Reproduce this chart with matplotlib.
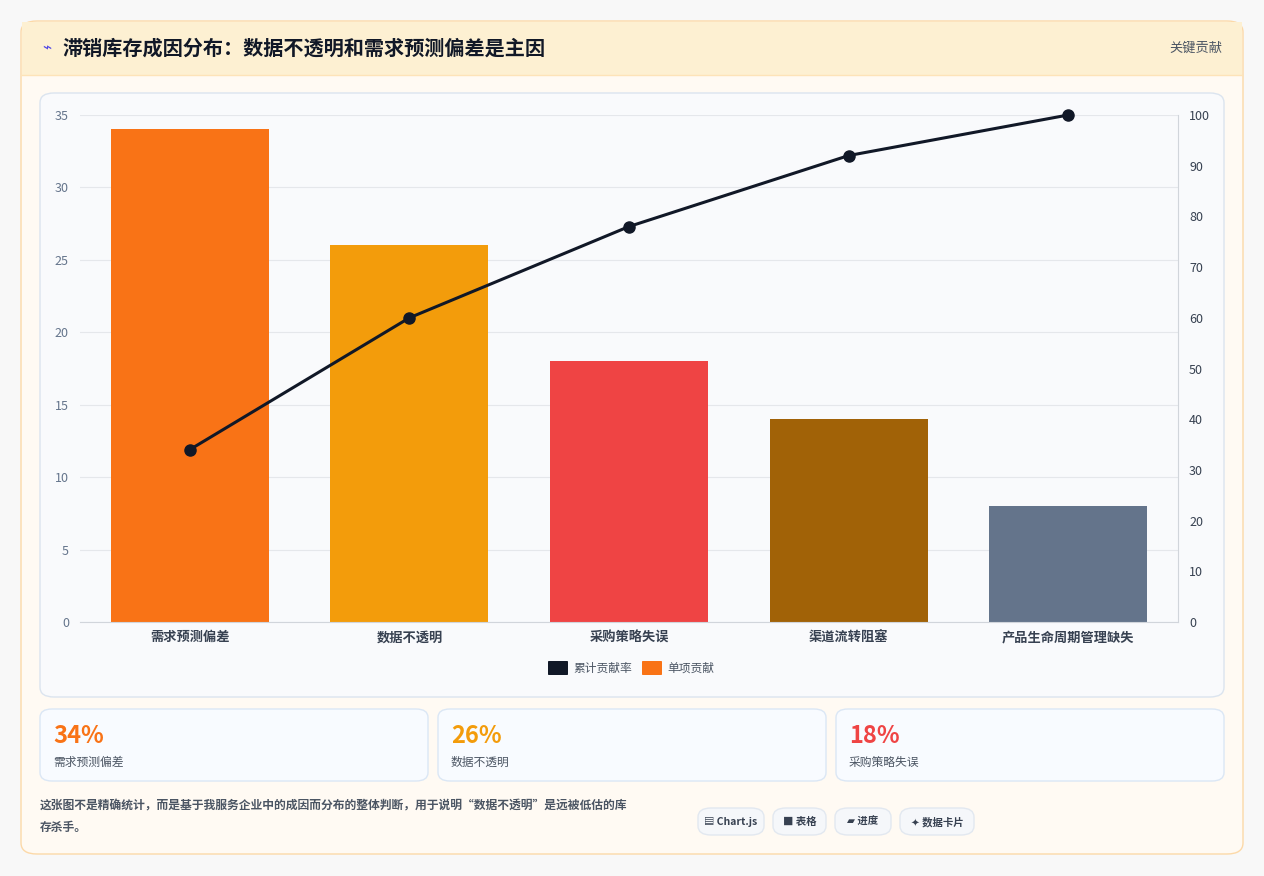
import matplotlib.pyplot as plt
from matplotlib.patches import FancyBboxPatch, Rectangle
from matplotlib.lines import Line2D

plt.rcParams['font.family'] = ['Noto Sans CJK SC', 'DejaVu Sans']

categories = ['需求预测偏差', '数据不透明', '采购策略失误', '渠道流转阻塞', '产品生命周期管理缺失']
shares = [34, 26, 18, 14, 8]
cumulative = [34, 60, 78, 92, 100]
bar_colors = ['#f97316', '#f39c0b', '#ef4444', '#a16207', '#64748b']
cards = [('34%', '需求预测偏差', '#f97316'), ('26%', '数据不透明', '#f39c0b'), ('18%', '采购策略失误', '#ef4444')]
chips = ['▤ Chart.js', '■ 表格', '▰ 进度', '✦ 数据卡片']
chip_widths = [66, 53, 56, 74]

W, H = 1264, 876
fig = plt.figure(figsize=(W / 100, H / 100), dpi=100)
fig.patch.set_facecolor('#f8f8f8')


def box(x, y, w, h, fc, ec, r=12, lw=1, z=0):
    p = FancyBboxPatch((x / W, 1 - (y + h) / H), w / W, h / H,
                       boxstyle=f"round,pad=0,rounding_size={r / W}",
                       transform=fig.transFigure, fc=fc, ec=ec, lw=lw, zorder=z)
    fig.patches.append(p)


def txt(x, y, s, **kw):
    fig.text(x / W, 1 - y / H, s, **kw)


# outer card
box(21, 21, 1222, 833, '#fffaf3', '#fcd9a8', r=16)
fig.patches.append(Rectangle((22 / W, 1 - 75 / H), 1220 / W, 53 / H, transform=fig.transFigure,
                             fc='#fdf0d2', ec='none', zorder=0.5))
fig.add_artist(Line2D([22 / W, 1242 / W], [1 - 75 / H] * 2, color='#fde3b8', lw=1))
txt(42, 48, '⌁', color='#4f46e5', fontsize=11, va='center')
txt(62, 48, '滞销库存成因分布：数据不透明和需求预测偏差是主因', fontsize=14.5, fontweight='bold',
    color='#111827', va='center')
txt(1222, 48, '关键贡献', fontsize=9.5, color='#4b5563', va='center', ha='right')

# chart panel
box(40, 93, 1184, 604, '#f9fafc', '#dbe4ef', r=14)

ax = fig.add_axes([80 / W, (H - 622) / H, 1098 / W, 507 / H])
ax.set_zorder(5)
ax.set_facecolor('none')
x = range(len(categories))
ax.bar(x, shares, width=0.72, color=bar_colors, zorder=2)
ax.set_ylim(0, 35)
ax.set_xlim(-0.5, 4.5)
ax.set_yticks(range(0, 36, 5))
ax.set_xticks(list(x))
ax.set_xticklabels(categories, fontsize=9.5, color='#374151', fontweight='bold')
ax.tick_params(axis='y', labelsize=9, colors='#64748b', length=0, pad=8)
ax.tick_params(axis='x', length=0, pad=6)
ax.grid(axis='y', color='#e5e7eb', lw=0.8, zorder=0)
for s in ax.spines.values():
    s.set_visible(False)
ax.spines['bottom'].set_visible(True)
ax.spines['bottom'].set_color('#d1d5db')

ax2 = ax.twinx()
ax2.set_zorder(6)
ax2.set_facecolor('none')
ax2.plot(list(x), cumulative, color='#111827', lw=2.2, marker='o', ms=8, zorder=3, clip_on=False)
ax2.set_ylim(0, 100)
ax2.set_yticks(range(0, 101, 10))
ax2.tick_params(axis='y', labelsize=9, colors='#374151', length=0, pad=8)
for s in ax2.spines.values():
    s.set_visible(False)
ax2.spines['right'].set_visible(True)
ax2.spines['right'].set_color('#d1d5db')

# legend
box(548, 661, 20, 14, '#111827', 'none', r=1, z=2)
txt(573, 668, '累计贡献率', fontsize=8.5, color='#4b5563', va='center')
box(642, 661, 20, 14, '#f97316', 'none', r=1, z=2)
txt(667, 668, '单项贡献', fontsize=8.5, color='#4b5563', va='center')

# stat cards
for i, (val, lab, col) in enumerate(cards):
    cx = 40 + i * 398
    box(cx, 709, 388, 72, '#f8fbff', '#dbe7f5', r=12)
    txt(cx + 13, 736, val, fontsize=17, fontweight='bold', color=col, va='center')
    txt(cx + 13, 762, lab, fontsize=8.5, color='#4b5563', va='center')

txt(40, 806, '这张图不是精确统计，而是基于我服务企业中的成因而分布的整体判断，用于说明“数据不透明”是远被低估的库',
    fontsize=8.5, color='#4b5563', va='center', fontweight='bold')
txt(40, 827, '存杀手。', fontsize=8.5, color='#4b5563', va='center', fontweight='bold')

cx = 698
for c, w in zip(chips, chip_widths):
    box(cx, 808, w, 27, '#f5f7fa', '#e2e8f0', r=13)
    txt(cx + w / 2, 822, c, fontsize=7.5, color='#374151', ha='center', va='center', fontweight='bold')
    cx += w + 9

fig.savefig('out.png', dpi=100, facecolor=fig.get_facecolor())
